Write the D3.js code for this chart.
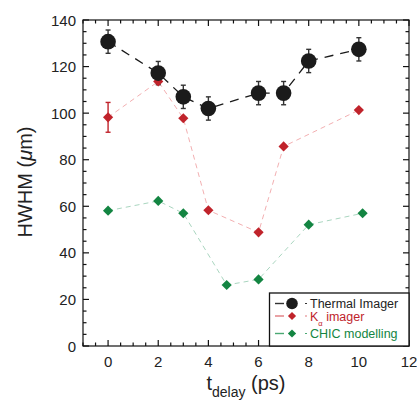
<!DOCTYPE html>
<html>
<head>
<meta charset="utf-8">
<script src="https://cdn.jsdelivr.net/npm/d3@7"></script>
<style>
  body { margin: 0; background: #fff; }
  text { font-family: "Liberation Sans", Arial, sans-serif; fill: #222; }
</style>
</head>
<body>
<svg width="417" height="406"></svg>
<script>
// thermal imager
const thermalX = [0, 2, 3, 4, 6, 7, 8, 10];
const thermalY = [130.7, 117.2, 107, 102, 108.6, 108.6, 122.4, 127.4];
const thermalErr = [5, 5, 5, 5, 5, 5, 5, 5];
// K-alpha imager
const kalphaX = [0, 2, 3, 4, 6, 7, 10];
const kalphaY = [98.2, 113.6, 97.8, 58.3, 48.8, 85.7, 101.3];
const kalphaErr = [6.4, 0, 0, 0, 0, 0, 0];
// CHIC modelling
const chicX = [0, 2, 3, 4.73, 6, 8, 10.15];
const chicY = [58.1, 62.3, 57, 26.2, 28.6, 52.1, 57];

const xTicks = [0, 2, 4, 6, 8, 10, 12];
const yTicks = [0, 20, 40, 60, 80, 100, 120, 140];

const svg = d3.select("svg");
const mLeft = 83, mRight = 409, mTop = 20, mBottom = 346;

let x = d3.scaleLinear().domain([-1, 12]).range([mLeft, mRight]);
let y = d3.scaleLinear().domain([0, 140]).range([mBottom, mTop]);

const zip = (xs, ys) => xs.map((v, i) => ({ x: v, y: ys[i] }));
const thermal = zip(thermalX, thermalY).map((d, i) => ({ ...d, e: thermalErr[i] }));
const kalpha = zip(kalphaX, kalphaY).map((d, i) => ({ ...d, e: kalphaErr[i] }));
const chic = zip(chicX, chicY);

let line = d3.line().x(d => x(d.x)).y(d => y(d.y));

// lines first
svg.append("path").datum(chic).attr("d", line)
  .attr("fill", "none").attr("stroke", "#9fd0b8").attr("stroke-width", 0.9)
  .attr("stroke-dasharray", "5,4");
svg.append("path").datum(kalpha).attr("d", line)
  .attr("fill", "none").attr("stroke", "#f0a6a8").attr("stroke-width", 0.9)
  .attr("stroke-dasharray", "5,4");
svg.append("path").datum(thermal).attr("d", line)
  .attr("fill", "none").attr("stroke", "#1a1a1a").attr("stroke-width", 1.3)
  .attr("stroke-dasharray", "9,7");

// error bars
function errorBars(data, color) {
  let g = svg.append("g").attr("stroke", color).attr("stroke-width", 1.4);
  data.filter(d => d.e > 0).forEach(d => {
    g.append("line").attr("x1", x(d.x)).attr("x2", x(d.x))
      .attr("y1", y(d.y + d.e)).attr("y2", y(d.y - d.e));
    [d.y + d.e, d.y - d.e].forEach(v => {
      g.append("line").attr("x1", x(d.x) - 2.5).attr("x2", x(d.x) + 2.5)
        .attr("y1", y(v)).attr("y2", y(v));
    });
  });
}
errorBars(thermal, "#333");
errorBars(kalpha, "#c0232b");

function diamonds(data, color, s) {
  svg.append("g").selectAll("path").data(data).enter().append("path")
    .attr("transform", d => "translate(" + x(d.x) + "," + y(d.y) + ") rotate(45)")
    .attr("d", d3.symbol().type(d3.symbolSquare).size(s))
    .attr("fill", color);
}
diamonds(chic, "#138542", 52);
diamonds(kalpha, "#c0232b", 52);

svg.append("g").selectAll("circle").data(thermal).enter().append("circle")
  .attr("cx", d => x(d.x)).attr("cy", d => y(d.y)).attr("r", 7.8)
  .attr("fill", "#1b1b1b");

// frame and ticks (inward, mirrored)
let axes = svg.append("g").attr("stroke", "#111").attr("stroke-width", 1.2);
axes.append("rect").attr("x", mLeft).attr("y", mTop)
  .attr("width", mRight - mLeft).attr("height", mBottom - mTop).attr("fill", "none");

d3.range(-1, 12.01, 0.5).forEach(v => {
  let major = xTicks.includes(v);
  let len = major ? 6 : 3.5;
  axes.append("line").attr("x1", x(v)).attr("x2", x(v)).attr("y1", mBottom).attr("y2", mBottom - len);
  axes.append("line").attr("x1", x(v)).attr("x2", x(v)).attr("y1", mTop).attr("y2", mTop + len);
});
d3.range(0, 140.01, 5).forEach(v => {
  let major = yTicks.includes(v);
  let len = major ? 6 : 3.5;
  axes.append("line").attr("y1", y(v)).attr("y2", y(v)).attr("x1", mLeft).attr("x2", mLeft + len);
  axes.append("line").attr("y1", y(v)).attr("y2", y(v)).attr("x1", mRight).attr("x2", mRight - len);
});

svg.append("g").selectAll("text").data(xTicks).enter().append("text")
  .attr("x", d => x(d)).attr("y", mBottom + 21).attr("text-anchor", "middle")
  .attr("font-size", 15).text(d => d);
svg.append("g").selectAll("text").data(yTicks).enter().append("text")
  .attr("x", mLeft - 7).attr("y", d => y(d) + 5.5).attr("text-anchor", "end")
  .attr("font-size", 15).text(d => d);

// axis titles
let xl = svg.append("text").attr("x", 246).attr("y", 390).attr("text-anchor", "middle")
  .attr("font-size", 20);
xl.append("tspan").text("t");
xl.append("tspan").attr("font-size", 14).attr("dy", 7).text("delay");
xl.append("tspan").attr("dy", -7).text(" (ps)");

let yl = svg.append("text").attr("transform", "translate(32,182) rotate(-90)")
  .attr("text-anchor", "middle").attr("font-size", 20);
yl.append("tspan").text("HWHM (");
yl.append("tspan").attr("font-style", "italic").text("\u03bc");
yl.append("tspan").text("m)");

// legend
let lg = svg.append("g");
lg.append("rect").attr("x", 269.5).attr("y", 293).attr("width", mRight - 269.5).attr("height", mBottom - 293)
  .attr("fill", "#fff").attr("stroke", "#111").attr("stroke-width", 1.3);
const legendRows = [
  { label: "Thermal Imager", color: "#1b1b1b", text: "#222", yy: 303.5 },
  { label: "K", sub: "\u03b1", rest: " imager", color: "#c0232b", text: "#c0232b", yy: 316 },
  { label: "CHIC modelling", color: "#138542", text: "#138542", yy: 333.5 }
];
legendRows.forEach((r, i) => {
  let lc = i === 0 ? "#333" : (i === 1 ? "#e07a7e" : "#4aa873");
  lg.append("line").attr("x1", 275).attr("x2", 284).attr("y1", r.yy).attr("y2", r.yy)
    .attr("stroke", lc).attr("stroke-width", 1.4);
  lg.append("line").attr("x1", 305).attr("x2", 307).attr("y1", r.yy).attr("y2", r.yy)
    .attr("stroke", lc).attr("stroke-width", 1.2);
  if (i === 0) {
    lg.append("circle").attr("cx", 292).attr("cy", r.yy).attr("r", 5.8).attr("fill", r.color);
  } else {
    lg.append("path").attr("transform", "translate(292," + r.yy + ") rotate(45)")
      .attr("d", d3.symbol().type(d3.symbolSquare).size(34)).attr("fill", r.color);
  }
  let t = lg.append("text").attr("x", 310).attr("y", r.yy + 4.5).attr("font-size", 12.5)
    .style("fill", r.text);
  t.append("tspan").text(r.label);
  if (r.sub) {
    t.append("tspan").attr("font-size", 7.5).attr("dy", 5).text(r.sub);
    t.append("tspan").attr("dy", -5).text(r.rest);
  }
});
</script>
</body>
</html>
